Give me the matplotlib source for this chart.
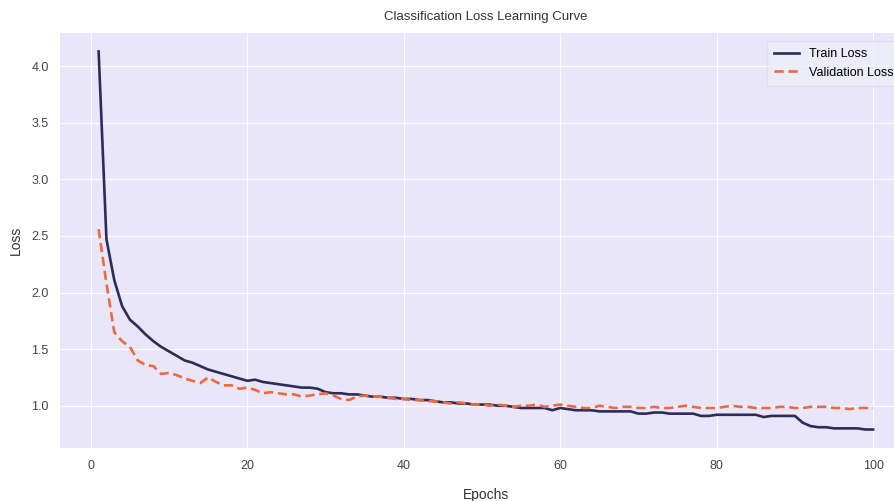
import matplotlib
matplotlib.use("Agg")
import matplotlib.pyplot as plt
import numpy as np

epochs = list(range(1, 101))

train_loss = [
    4.13, 2.47, 2.11, 1.88, 1.76, 1.70, 1.63, 1.57, 1.52, 1.48,
    1.44, 1.40, 1.38, 1.35, 1.32, 1.30, 1.28, 1.26, 1.24, 1.22,
    1.23, 1.21, 1.20, 1.19, 1.18, 1.17, 1.16, 1.16, 1.15, 1.12,
    1.11, 1.11, 1.10, 1.10, 1.09, 1.08, 1.08, 1.07, 1.07, 1.06,
    1.06, 1.05, 1.05, 1.04, 1.03, 1.03, 1.02, 1.02, 1.01, 1.01,
    1.01, 1.00, 1.00, 0.99, 0.98, 0.98, 0.98, 0.98, 0.96, 0.98,
    0.97, 0.96, 0.96, 0.96, 0.95, 0.95, 0.95, 0.95, 0.95, 0.93,
    0.93, 0.94, 0.94, 0.93, 0.93, 0.93, 0.93, 0.91, 0.91, 0.92,
    0.92, 0.92, 0.92, 0.92, 0.92, 0.90, 0.91, 0.91, 0.91, 0.91,
    0.85, 0.82, 0.81, 0.81, 0.80, 0.80, 0.80, 0.80, 0.79, 0.79,
]

val_loss = [
    2.56, 2.08, 1.65, 1.57, 1.52, 1.40, 1.36, 1.35, 1.28, 1.29,
    1.27, 1.24, 1.22, 1.20, 1.25, 1.21, 1.18, 1.18, 1.15, 1.16,
    1.14, 1.11, 1.12, 1.11, 1.10, 1.10, 1.08, 1.09, 1.10, 1.11,
    1.09, 1.06, 1.05, 1.08, 1.09, 1.08, 1.08, 1.07, 1.06, 1.06,
    1.05, 1.05, 1.04, 1.04, 1.03, 1.02, 1.03, 1.02, 1.01, 1.01,
    1.00, 1.01, 1.00, 0.99, 1.00, 1.00, 1.01, 0.99, 1.00, 1.01,
    1.00, 0.99, 0.98, 0.98, 1.00, 0.99, 0.98, 0.99, 0.99, 0.98,
    0.98, 0.99, 0.98, 0.98, 0.99, 1.00, 0.99, 0.98, 0.98, 0.98,
    0.99, 1.00, 0.99, 0.99, 0.98, 0.98, 0.98, 0.99, 0.99, 0.98,
    0.98, 0.99, 0.99, 0.99, 0.98, 0.98, 0.97, 0.98, 0.98, 0.98,
]

title = "Classification Loss Learning Curve"
xlabel = "Epochs"
ylabel = "Loss"
labels = ["Train Loss", "Validation Loss"]

plt.rcParams['font.family'] = ['Liberation Sans', 'DejaVu Sans']

fig = plt.figure(figsize=(8.94, 5.01), dpi=100)
ax = fig.add_axes([0.067, 0.105, 0.953, 0.83])
ax.set_facecolor('#E8E6F8')
for s in ax.spines.values():
    s.set_visible(False)
ax.grid(True, color='white', linewidth=0.8, alpha=0.9)
ax.set_axisbelow(True)

ax.plot(epochs, train_loss, color='#2B2D57', linewidth=1.9, label=labels[0])
ax.plot(epochs, val_loss, color='#EE6A3E', linewidth=1.9, linestyle=(0, (3.5, 1.8)), label=labels[1])

ax.set_yticks([1.0, 1.5, 2.0, 2.5, 3.0, 3.5, 4.0])
ax.set_xticks([0, 20, 40, 60, 80, 100])
ax.tick_params(axis='both', length=0, labelsize=9, colors='#444444', pad=8)
ax.set_title(title, fontsize=9.5, color='#333333', pad=9)
ax.set_xlabel(xlabel, fontsize=10, color='#333333', labelpad=12)
ax.set_ylabel(ylabel, fontsize=10, color='#333333', labelpad=6)

leg = ax.legend(loc='upper right', fontsize=9, frameon=True, borderpad=0.6,
                bbox_to_anchor=(0.995, 0.995))
leg.get_frame().set_facecolor('#EEEEF8')
leg.get_frame().set_edgecolor('#DDDDEE')

fig.savefig('out.png', dpi=100, facecolor='white')
